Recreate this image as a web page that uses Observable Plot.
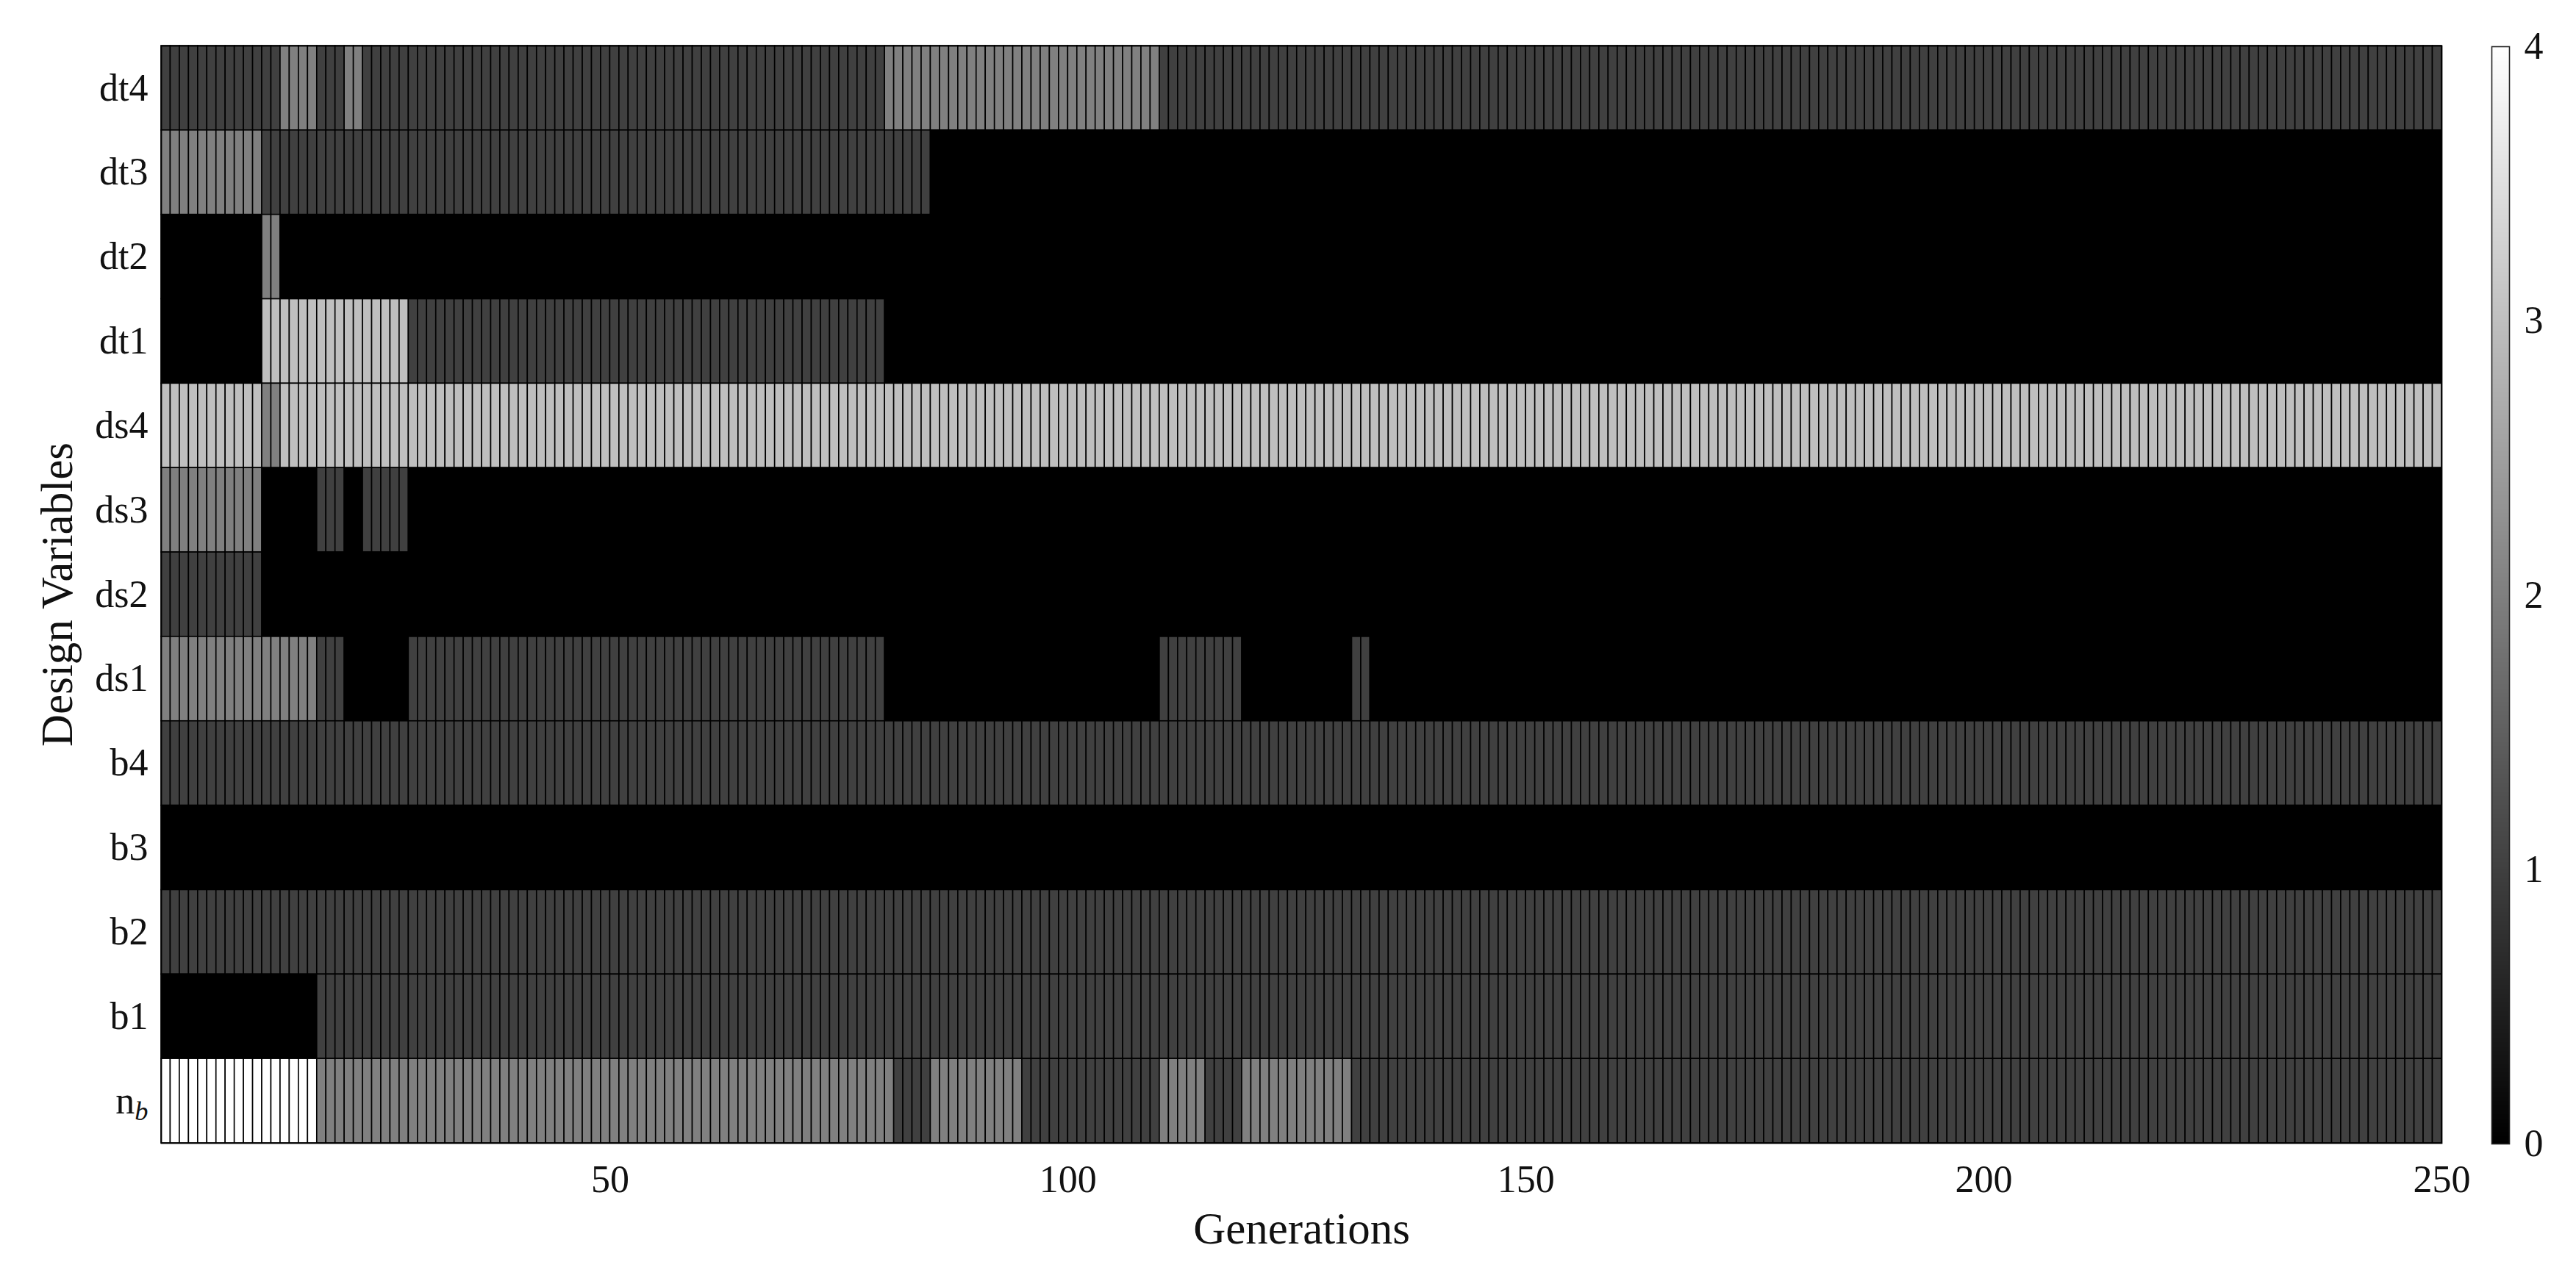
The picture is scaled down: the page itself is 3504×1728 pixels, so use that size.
<!DOCTYPE html>
<html>
<head>
<meta charset="utf-8">
<script src="https://cdn.jsdelivr.net/npm/d3@7"></script>
<script src="https://cdn.jsdelivr.net/npm/@observablehq/plot@0.6"></script>
<style>
  html, body { margin: 0; padding: 0; background: #fff; }
  #wrap { display: flex; flex-direction: row; align-items: flex-start; width: 3504px; height: 1728px; }
  svg { display: block; }
</style>
</head>
<body>
<div id="wrap"></div>
<script>
// Design variables, top to bottom
const variables = ["dt4","dt3","dt2","dt1","ds4","ds3","ds2","ds1","b4","b3","b2","b1","n_b"];
// x tick labels (generations)
const genTicks = [50, 100, 150, 200, 250];
// colorbar ticks
const colorTicks = [0, 1, 2, 3, 4];

// Values: [first generation, last generation, value]
const dt4 = [[1,13,1],[14,17,2],[18,20,1],[21,22,2],[23,79,1],[80,109,2],[110,249,1]];
const dt3 = [[1,11,2],[12,84,1],[85,249,0]];
const dt2 = [[1,11,0],[12,13,2],[14,249,0]];
const dt1 = [[1,11,0],[12,27,3],[28,79,1],[80,249,0]];
const ds4 = [[1,11,3],[12,13,2],[14,249,3]];
const ds3 = [[1,11,2],[12,17,0],[18,20,1],[21,22,0],[23,27,1],[28,249,0]];
const ds2 = [[1,11,1],[12,249,0]];
const ds1 = [[1,17,2],[18,20,1],[21,27,0],[28,79,1],[80,109,0],[110,118,1],[119,130,0],[131,132,1],[133,249,0]];
const b4  = [[1,249,1]];
const b3  = [[1,249,0]];
const b2  = [[1,249,1]];
const b1  = [[1,17,0],[18,249,1]];
const n_b = [[1,17,4],[18,80,2],[81,84,1],[85,94,2],[95,109,1],[110,114,2],[115,118,1],[119,130,2],[131,249,1]];

const runsByVar = {dt4, dt3, dt2, dt1, ds4, ds3, ds2, ds1, b4, b3, b2, b1, n_b};

// Expand runs into one cell per generation
const cells = [];
for (const v of variables) {
  for (const [a, b, val] of runsByVar[v]) {
    for (let g = a; g <= b; g++) cells.push({v, g, value: val});
  }
}

const FONT = "'Liberation Serif', 'DejaVu Serif', serif";

const main = Plot.plot({
  width: 3360,
  height: 1728,
  marginLeft: 219,
  marginRight: 39,
  marginTop: 62,
  marginBottom: 173,
  style: {fontFamily: FONT, fontSize: "52px", background: "white", color: "#111"},
  x: {domain: [1, 250]},
  y: {type: "band", domain: variables, padding: 0, round: false},
  color: {type: "linear", domain: [0, 4], range: ["#000000", "#ffffff"]},
  marks: [
    Plot.barX(cells, {x1: "g", x2: d => d.g + 1, y: "v", fill: "value", stroke: "black", strokeWidth: 1.6, inset: 0}),
    Plot.frame({stroke: "black", strokeWidth: 1.8}),
    Plot.axisX({ticks: genTicks, tickSize: 0, tickPadding: 30, label: null, fontSize: 52}),
    Plot.axisY({tickSize: 0, tickPadding: 18, label: null, fontSize: 52}),
    Plot.text(["Generations"], {frameAnchor: "bottom", dy: 117, text: d => d, fontSize: 61, lineAnchor: "middle", textAnchor: "middle"}),
    Plot.text(["Design Variables"], {frameAnchor: "left", dx: -141, rotate: -90, text: d => d, fontSize: 61, lineAnchor: "middle", textAnchor: "middle"})
  ]
});

// subscript for n_b
d3.select(main).selectAll("text").filter(function() { return this.textContent === "n_b"; })
  .each(function() {
    const t = d3.select(this);
    t.text(null);
    t.append("tspan").text("n");
    t.append("tspan").attr("font-style", "italic").attr("font-size", "0.7em").attr("dy", "0.25em").text("b");
  });

const bar = Plot.plot({
  width: 144,
  height: 1728,
  marginLeft: 29,
  marginRight: 91,
  marginTop: 63,
  marginBottom: 172,
  style: {fontFamily: FONT, fontSize: "52px", background: "white", color: "#111"},
  x: {domain: [0, 1], axis: null},
  y: {domain: [0, 4]},
  color: {type: "linear", domain: [0, 4], range: ["#000000", "#ffffff"]},
  marks: [
    Plot.raster({fill: (x, y) => y, x1: 0, x2: 1, y1: 0, y2: 4, width: 2, height: 500}),
    Plot.frame({stroke: "#222", strokeWidth: 1.6}),
    Plot.axisY({anchor: "right", ticks: colorTicks, tickSize: 0, tickPadding: 20, label: null, fontSize: 52, tickFormat: d => String(d)})
  ]
});

document.getElementById("wrap").append(main, bar);
</script>
</body>
</html>
